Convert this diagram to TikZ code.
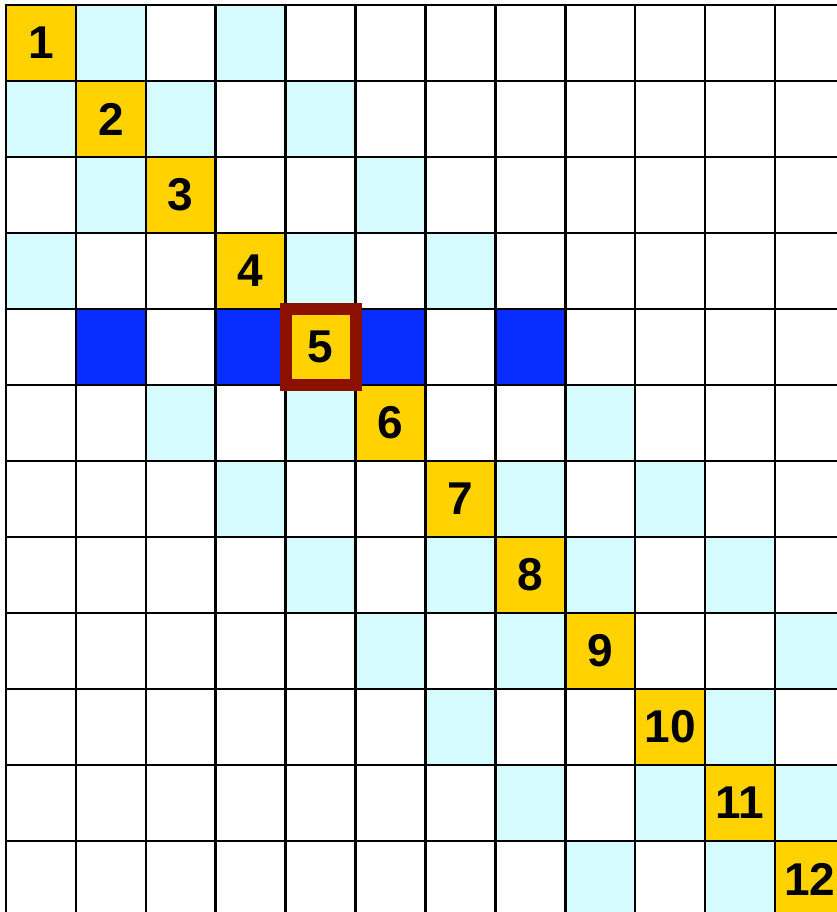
\documentclass[tikz,border=0pt]{standalone}
\usepackage{fontspec}
\setmainfont{Liberation Sans}
\usepackage{tikz}
\definecolor{cellyellow}{HTML}{FFD200}
\definecolor{cellcyan}{HTML}{D6FBFF}
\definecolor{cellblue}{HTML}{0A2DFF}
\definecolor{pivotred}{HTML}{8C1000}
\begin{document}
\begin{tikzpicture}[
  gridline/.style={line width=2.6pt, black, line cap=rect},
  diagcell/.style={fill=cellyellow},
  nzcell/.style={fill=cellcyan},
  pivotcell/.style={fill=cellblue},
  pivotbox/.style={draw=pivotred, line width=12pt},
  idx/.style={font=\fontsize{46}{46}\selectfont\bfseries, inner sep=0pt}
]
\useasboundingbox (0,0) rectangle (837pt,-912pt);
\clip (0,0) rectangle (837pt,-912pt);
\begin{scope}[shift={(6pt,-5pt)}, x=69.9pt, y=-76pt]
% symmetric off-diagonal entries
\foreach \a/\b in {1/2,1/4,2/3,3/6,4/7,6/9,7/8,7/10,8/9,8/11,9/12,10/11,11/12}{
  \fill[nzcell] (\b-1,\a-1) rectangle (\b,\a);
  \fill[nzcell] (\a-1,\b-1) rectangle (\a,\b);
}
% row and column of the pivot
\foreach \c in {2,4,6,8}{
  \fill[pivotcell] (\c-1,4) rectangle (\c,5);
  \fill[nzcell] (4,\c-1) rectangle (5,\c);
}
% diagonal
\foreach \i in {1,...,12}
  \fill[diagcell] (\i-1,\i-1) rectangle (\i,\i);
% grid
\foreach \k in {0,...,12}{
  \draw[gridline] (\k,0) -- (\k,12.2);
  \draw[gridline] (0,\k) -- (12.2,\k);
}
% pivot frame
\draw[pivotbox] (4,4) rectangle (5,5);
% labels
\foreach \i in {1,...,12}
  \node[idx] (d\i) at (\i-0.5,\i-0.5) {\i};
\end{scope}
\end{tikzpicture}
\end{document}
